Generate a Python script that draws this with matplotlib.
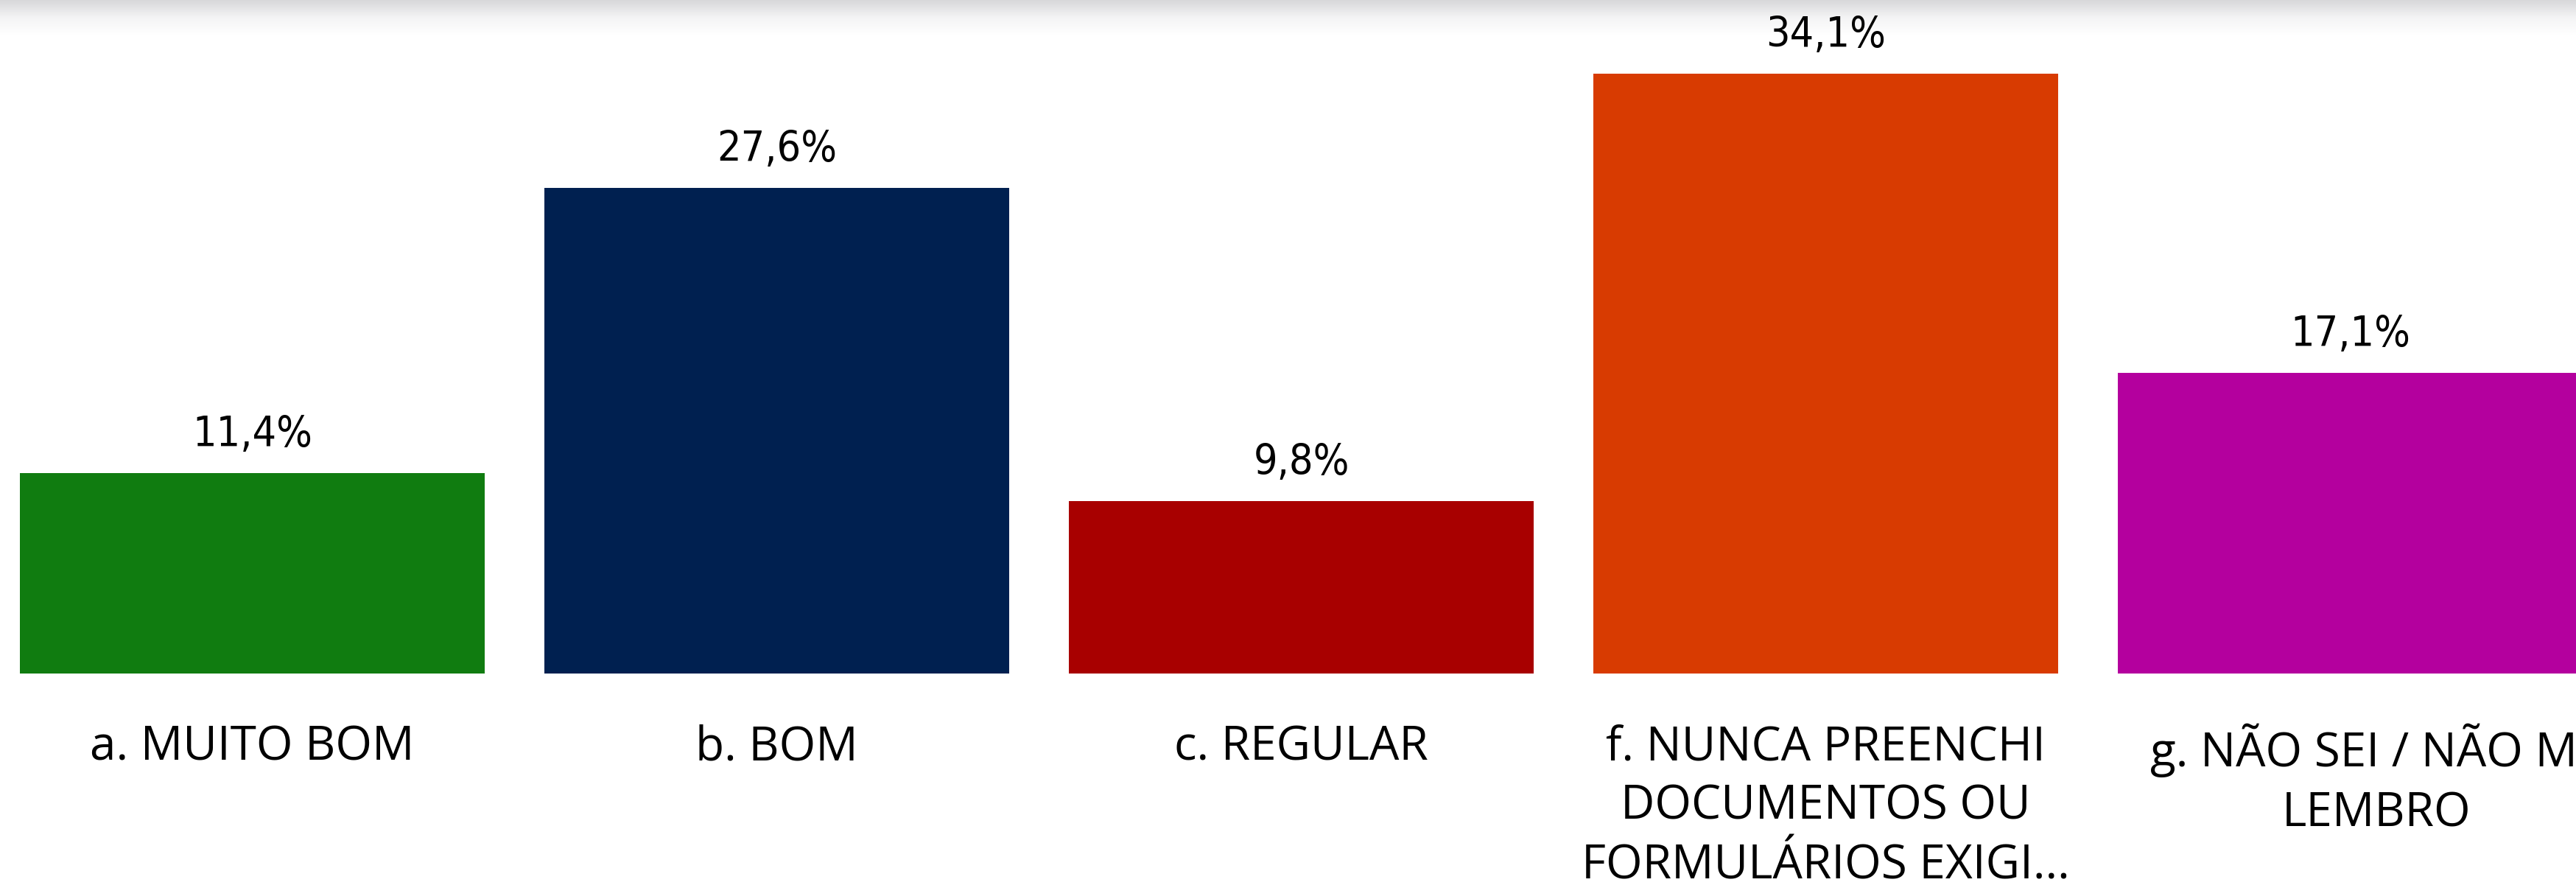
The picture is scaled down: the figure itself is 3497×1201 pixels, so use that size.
import matplotlib
matplotlib.use("Agg")
import matplotlib.pyplot as plt
import matplotlib.transforms as mtransforms
import numpy as np

# data
categories = ["a. MUITO BOM", "b. BOM", "c. REGULAR",
              "f. NUNCA PREENCHI\nDOCUMENTOS OU\nFORMULÁRIOS EXIGI...",
              "g. NÃO SEI / NÃO ME\nLEMBRO"]
values = [11.4, 27.6, 9.8, 34.1, 17.1]
value_labels = ["11,4%", "27,6%", "9,8%", "34,1%", "17,1%"]
colors = ["#107C10", "#002050", "#A80000", "#D83B01", "#B4009E"]

W, H, DPI = 3497, 1201, 100
fig = plt.figure(figsize=(W / DPI, H / DPI), dpi=DPI)
fig.patch.set_facecolor("white")

# thin grey shade along the top edge
shade = fig.add_axes([0, 1 - 48 / H, 1, 48 / H])
grad = np.linspace(0, 1, 64).reshape(-1, 1)
shade.imshow(grad, aspect="auto", cmap=matplotlib.colors.LinearSegmentedColormap.from_list(
    "sh", ["#d8d8da", "#f4f4f5", "#ffffff"]), extent=[0, 1, 0, 1])
shade.axis("off")

base_px = 914  # bar baseline, pixels from top
ax = fig.add_axes([0, 1 - base_px / H, 1, base_px / H])
ax.set_zorder(2)
ax.patch.set_alpha(0)
x = np.arange(len(values))
ax.bar(x, values, width=0.886, color=colors)
ax.set_xlim(-0.481, 4.430)
ax.set_ylim(0, base_px / 23.86)
ax.axis("off")

for xi, v, lab in zip(x, values, value_labels):
    ax.annotate(lab, (xi, v), xytext=(0, 24), textcoords="offset pixels",
                ha="center", va="bottom", fontsize=41, family="DejaVu Sans",
                fontstretch="condensed", color="black")

trans = mtransforms.blended_transform_factory(ax.transData, ax.transAxes)
nudge = [0, 0, 0, 0, 0.05]
for xi, cat, dx in zip(x, categories, nudge):
    ax.annotate(cat, (xi + dx, 0), xycoords=trans, xytext=(0, -68),
                textcoords="offset pixels", ha="center", va="top",
                fontsize=46, family=["Open Sans", "DejaVu Sans"], color="black",
                linespacing=1.34, annotation_clip=False)

fig.savefig("out.png", dpi=DPI)
